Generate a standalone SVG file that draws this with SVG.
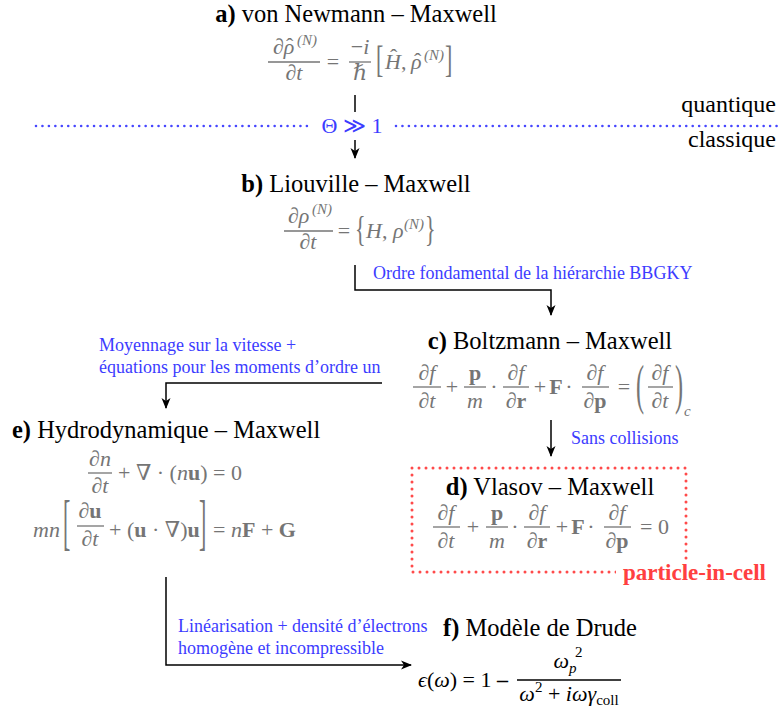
<svg xmlns="http://www.w3.org/2000/svg" width="778" height="711" viewBox="0 0 778 711">
<style>
.t{font-family:"Liberation Serif","Times New Roman",serif;font-size:24.5px;fill:#000}
.m{font-family:"Liberation Serif","DejaVu Serif",serif;font-size:22px;fill:#757575;font-style:italic}
.k{fill:#000}
.r{font-style:normal}
.b{font-weight:bold;font-style:normal}
.sup{font-size:15px}
.lbl{font-family:"Liberation Serif","Times New Roman",serif;font-size:18px;fill:#3c3cff}
.bar{stroke:#757575;stroke-width:1.3}
.bark{stroke:#000;stroke-width:1.3}
.c{fill:none;stroke:#000;stroke-width:1.5}
.dotb{fill:none;stroke:#4646ff;stroke-width:2.6;stroke-linecap:round;stroke-dasharray:0 6.45}
.dotr{fill:none;stroke:#ff4a4a;stroke-width:3;stroke-linecap:round;stroke-dasharray:0 7}
</style>
<defs>
<marker id="ah" markerUnits="userSpaceOnUse" markerWidth="12" markerHeight="10" refX="10" refY="5" orient="auto" viewBox="0 0 12 10">
<path d="M0,0.5 L11,5 L0,9.5 L3,5 Z" fill="#000"/>
</marker>
</defs>

<g id="connectors">
<line class="c" x1="355" y1="95" x2="355" y2="112"/>
<line class="c" x1="355" y1="140" x2="355" y2="158" marker-end="url(#ah)"/>
<polyline class="c" points="355,265 355,290 551,290 551,315" marker-end="url(#ah)"/>
<line class="c" x1="551" y1="420" x2="551" y2="456" marker-end="url(#ah)"/>
<polyline class="c" points="382,383 166,383 166,408" marker-end="url(#ah)"/>
<polyline class="c" points="166,577 166,665 411,665" marker-end="url(#ah)"/>
</g>

<g id="boundary">
<line class="dotb" x1="36" y1="126" x2="310" y2="126"/>
<line class="dotb" x1="396" y1="126" x2="777" y2="126"/>
<text x="352" y="133" text-anchor="middle" style="font-family:'Liberation Serif','DejaVu Serif',serif;font-size:22px;fill:#3c3cff">Θ ≫ 1</text>
<text x="776" y="112" text-anchor="end" style="font-family:'Liberation Serif','Times New Roman',serif;font-size:24px">quantique</text>
<text x="776" y="147" text-anchor="end" style="font-family:'Liberation Serif','Times New Roman',serif;font-size:24px">classique</text>
</g>

<g id="node-a">
<text class="t" x="356" y="22" text-anchor="middle"><tspan font-weight="bold">a)</tspan> von Newmann – Maxwell</text>
<text class="m" x="273" y="54">∂ρ</text>
<text class="m r" x="286" y="53">ˆ</text>
<text class="m sup" x="297" y="45">(N)</text>
<line class="bar" x1="268" y1="62" x2="320" y2="62"/>
<text class="m" x="294" y="80" text-anchor="middle">∂t</text>
<text class="m r" x="333" y="69" text-anchor="middle">=</text>
<text class="m" x="360" y="54" text-anchor="middle"><tspan class="r">−</tspan>i</text>
<line class="bar" x1="349" y1="62" x2="371" y2="62"/>
<text class="m" x="360" y="80" text-anchor="middle">ℏ</text>
<text class="m r" transform="translate(376,72) scale(1,1.7)">[</text>
<text class="m" x="385" y="69">H<tspan class="r">,</tspan></text>
<text class="m r" x="390" y="64">ˆ</text>
<text class="m" x="411" y="69">ρ</text>
<text class="m r" x="414" y="68">ˆ</text>
<text class="m sup" x="424" y="60">(N)</text>
<text class="m r" transform="translate(445,72) scale(1,1.7)">]</text>
</g>

<g id="node-b">
<text class="t" x="356" y="192" text-anchor="middle"><tspan font-weight="bold">b)</tspan> Liouville – Maxwell</text>
<text class="m" x="288" y="223">∂ρ</text>
<text class="m sup" x="312" y="214">(N)</text>
<line class="bar" x1="284" y1="231" x2="333" y2="231"/>
<text class="m" x="308" y="249" text-anchor="middle">∂t</text>
<text class="m r" x="344" y="238" text-anchor="middle">=</text>
<text class="m r" transform="translate(355,241) scale(1,1.6)">{</text>
<text class="m" x="366" y="238">H<tspan class="r">, </tspan>ρ</text>
<text class="m sup" x="404" y="229">(N)</text>
<text class="m r" transform="translate(425,241) scale(1,1.6)">}</text>
</g>

<g id="label-bbgky">
<text class="lbl" x="373" y="279">Ordre fondamental de la hiérarchie BBGKY</text>
</g>

<g id="node-c">
<text class="t" x="550" y="349" text-anchor="middle"><tspan font-weight="bold">c)</tspan> Boltzmann – Maxwell</text>
<text class="m" x="427" y="380" text-anchor="middle">∂f</text>
<line class="bar" x1="413" y1="387" x2="441" y2="387"/>
<text class="m" x="427" y="408" text-anchor="middle">∂t</text>
<text class="m r" x="452" y="394" text-anchor="middle">+</text>
<text class="m b" x="475" y="380" text-anchor="middle">p</text>
<line class="bar" x1="464" y1="387" x2="486" y2="387"/>
<text class="m" x="475" y="408" text-anchor="middle">m</text>
<text class="m r" x="494" y="394" text-anchor="middle">·</text>
<text class="m" x="516" y="380" text-anchor="middle">∂f</text>
<line class="bar" x1="503" y1="387" x2="529" y2="387"/>
<text class="m" x="516" y="408" text-anchor="middle">∂<tspan class="b">r</tspan></text>
<text class="m r" x="540" y="394" text-anchor="middle">+</text>
<text class="m b" x="556" y="394" text-anchor="middle">F</text>
<text class="m r" x="569" y="394" text-anchor="middle">·</text>
<text class="m" x="595" y="380" text-anchor="middle">∂f</text>
<line class="bar" x1="582" y1="387" x2="609" y2="387"/>
<text class="m" x="595" y="408" text-anchor="middle">∂<tspan class="b">p</tspan></text>
<text class="m r" x="624" y="394" text-anchor="middle">=</text>
<text class="m r" transform="translate(636,403) scale(1.1,2.5)">(</text>
<text class="m" x="660" y="380" text-anchor="middle">∂f</text>
<line class="bar" x1="648" y1="387" x2="673" y2="387"/>
<text class="m" x="660" y="408" text-anchor="middle">∂t</text>
<text class="m r" transform="translate(675,403) scale(1.1,2.5)">)</text>
<text class="m" x="684" y="416" style="font-size:15px">c</text>
</g>

<g id="label-sans">
<text class="lbl" x="571" y="444">Sans collisions</text>
</g>

<g id="label-moyennage">
<text class="lbl" x="99" y="351">Moyennage sur la vitesse +</text>
<text class="lbl" x="99" y="373">équations pour les moments d’ordre un</text>
</g>

<g id="node-d">
<rect class="dotr" x="412" y="468" width="274" height="104"/>
<rect x="616" y="561" width="156" height="26" fill="#fff"/>
<text class="t" x="550" y="495" text-anchor="middle"><tspan font-weight="bold">d)</tspan> Vlasov – Maxwell</text>
<text class="m" x="446" y="520" text-anchor="middle">∂f</text>
<line class="bar" x1="433" y1="527" x2="460" y2="527"/>
<text class="m" x="446" y="548" text-anchor="middle">∂t</text>
<text class="m r" x="473" y="534" text-anchor="middle">+</text>
<text class="m b" x="497" y="520" text-anchor="middle">p</text>
<line class="bar" x1="486" y1="527" x2="508" y2="527"/>
<text class="m" x="497" y="548" text-anchor="middle">m</text>
<text class="m r" x="515" y="534" text-anchor="middle">·</text>
<text class="m" x="537" y="520" text-anchor="middle">∂f</text>
<line class="bar" x1="524" y1="527" x2="550" y2="527"/>
<text class="m" x="537" y="548" text-anchor="middle">∂<tspan class="b">r</tspan></text>
<text class="m r" x="562" y="534" text-anchor="middle">+</text>
<text class="m b" x="578" y="534" text-anchor="middle">F</text>
<text class="m r" x="591" y="534" text-anchor="middle">·</text>
<text class="m" x="617" y="520" text-anchor="middle">∂f</text>
<line class="bar" x1="604" y1="527" x2="631" y2="527"/>
<text class="m" x="617" y="548" text-anchor="middle">∂<tspan class="b">p</tspan></text>
<text class="m r" x="640" y="534">= 0</text>
<text x="766" y="580" text-anchor="end" style="font-family:'Liberation Serif','Times New Roman',serif;font-size:23px;font-weight:bold;fill:#ff4040">particle-in-cell</text>
</g>

<g id="node-e">
<text class="t" x="12" y="438"><tspan font-weight="bold">e)</tspan> Hydrodynamique – Maxwell</text>
<text class="m" x="100" y="466" text-anchor="middle">∂n</text>
<line class="bar" x1="88" y1="473" x2="112" y2="473"/>
<text class="m" x="100" y="493" text-anchor="middle">∂t</text>
<text class="m r" x="118" y="480">+ ∇ · (<tspan class="m">n</tspan><tspan class="b">u</tspan>) = 0</text>
<text class="m" x="33" y="537">mn</text>
<text class="m r" transform="translate(63,543) scale(1,2.8)">[</text>
<text class="m" x="90" y="518" text-anchor="middle">∂<tspan class="b">u</tspan></text>
<line class="bar" x1="77" y1="526" x2="104" y2="526"/>
<text class="m" x="90" y="546" text-anchor="middle">∂t</text>
<text class="m r" x="109" y="537">+ (<tspan class="b">u</tspan> · ∇)<tspan class="b">u</tspan></text>
<text class="m r" transform="translate(199,543) scale(1,2.8)">]</text>
<text class="m r" x="213" y="537">= <tspan class="m">n</tspan><tspan class="b">F</tspan> + <tspan class="b">G</tspan></text>
</g>

<g id="label-linearisation">
<text class="lbl" x="178" y="632">Linéarisation + densité d’électrons</text>
<text class="lbl" x="178" y="654">homogène et incompressible</text>
</g>

<g id="node-f">
<text class="t" x="540" y="636" text-anchor="middle"><tspan font-weight="bold">f)</tspan> Modèle de Drude</text>
<text class="m k" x="418" y="687">ϵ<tspan class="r">(</tspan>ω<tspan class="r">) = 1 </tspan><tspan class="r" font-weight="bold">–</tspan></text>
<text class="m k" x="565" y="668" text-anchor="middle">ω<tspan class="sup" dy="5">p</tspan></text>
<text class="m k r" x="575" y="657" style="font-size:15px">2</text>
<line class="bark" x1="517" y1="680" x2="621" y2="680"/>
<text class="m k" x="569" y="701" text-anchor="middle">ω<tspan class="sup r" dy="-9">2</tspan><tspan class="r" dy="9"> + </tspan>iωγ<tspan class="sup r" dy="4">coll</tspan></text>
</g>
</svg>
